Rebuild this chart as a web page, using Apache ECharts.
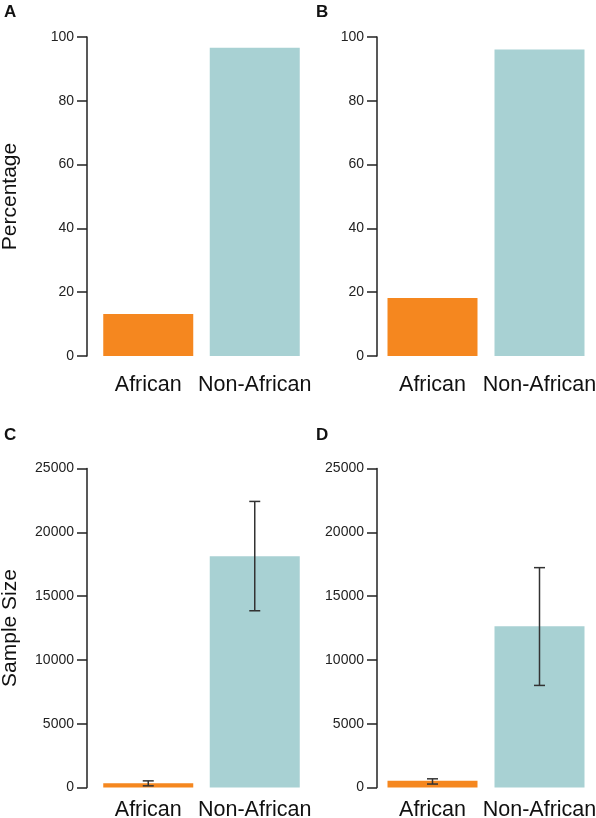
<!DOCTYPE html>
<html>
<head>
<meta charset="utf-8">
<script src="https://cdn.jsdelivr.net/npm/echarts@6/dist/echarts.min.js"></script>
<style>html,body{margin:0;padding:0;background:#fff}#c{width:596px;height:818px}</style>
</head>
<body>
<div id="c"></div>
<script>
const categories = ['African', 'Non-African'];
const pctA = [13.2, 96.6];
const pctB = [18.2, 96.1];
const sizeC = [340, 18130];
const errLowC = [130, 13850];
const errHighC = [520, 22420];
const sizeD = [520, 12630];
const errLowD = [270, 8000];
const errHighD = [680, 17230];
const pctTicks = [0, 20, 40, 60, 80, 100];
const sizeTicks = [0, 5000, 10000, 15000, 20000, 25000];

const barColors = ['#F5871F', '#A8D1D3'];
const FONT = 'Liberation Sans';
const axisColor = '#222';

const grids = [
  {left: 95, top: 37, width: 213, height: 319, outerBoundsMode: 'none', containLabel: false},
  {left: 379, top: 37, width: 214, height: 319, outerBoundsMode: 'none', containLabel: false},
  {left: 95, top: 468.5, width: 213, height: 319, outerBoundsMode: 'none', containLabel: false},
  {left: 379, top: 468.5, width: 214, height: 319, outerBoundsMode: 'none', containLabel: false}
];
const yOffsets = [8, 2, 8, 2];

function xAx(i, margin) {
  return {
    type: 'category', gridIndex: i, data: categories,
    axisLine: {show: false}, axisTick: {show: false},
    axisLabel: {fontFamily: FONT, fontSize: 21.5, color: '#111', margin: margin, interval: 0, hideOverlap: false}
  };
}
function yAx(i, ticks, name) {
  return {
    type: 'value', gridIndex: i, min: ticks[0], max: ticks[ticks.length - 1],
    interval: ticks[1] - ticks[0], offset: yOffsets[i],
    name: name, nameLocation: 'middle', nameGap: 66,
    nameTextStyle: {fontFamily: FONT, fontSize: 21, color: '#111'},
    splitLine: {show: false},
    axisLine: {show: true, lineStyle: {color: axisColor, width: 1.5}},
    axisTick: {show: true, length: 10, lineStyle: {color: axisColor, width: 1.5}},
    axisLabel: {fontFamily: FONT, fontSize: 14, color: '#222', margin: 13, formatter: v => String(v)}
  };
}
function bars(i, vals) {
  return {
    type: 'bar', xAxisIndex: i, yAxisIndex: i, barWidth: 90, z: 2,
    data: vals.map((v, k) => ({value: v, itemStyle: {color: barColors[k]}})),
    silent: true
  };
}
function errs(i, lo, hi) {
  return {
    type: 'custom', xAxisIndex: i, yAxisIndex: i, silent: true, z: 10,
    data: categories.map((c, k) => [k, lo[k], hi[k]]),
    encode: {x: 0, y: [1, 2]},
    renderItem: function (params, api) {
      const x = api.value(0);
      const p1 = api.coord([x, api.value(1)]);
      const p2 = api.coord([x, api.value(2)]);
      const hw = 5.5;
      const st = {stroke: '#333', lineWidth: 1.5, fill: null};
      return {
        type: 'group',
        children: [
          {type: 'line', shape: {x1: p1[0], y1: p1[1], x2: p2[0], y2: p2[1]}, style: st},
          {type: 'line', shape: {x1: p1[0] - hw, y1: p1[1], x2: p1[0] + hw, y2: p1[1]}, style: st},
          {type: 'line', shape: {x1: p2[0] - hw, y1: p2[1], x2: p2[0] + hw, y2: p2[1]}, style: st}
        ]
      };
    }
  };
}

const letterStyle = {fontFamily: 'Liberation Sans', fontWeight: 'bold', fontSize: 17, color: '#111'};
const option = {
  animation: false,
  title: [
    {text: 'A', left: 4, top: 4, textStyle: letterStyle, padding: 0},
    {text: 'B', left: 316, top: 4, textStyle: letterStyle, padding: 0},
    {text: 'C', left: 4, top: 427, textStyle: letterStyle, padding: 0},
    {text: 'D', left: 316, top: 427, textStyle: letterStyle, padding: 0}
  ],
  grid: grids,
  xAxis: [xAx(0, 18), xAx(1, 18), xAx(2, 12), xAx(3, 12)],
  yAxis: [yAx(0, pctTicks, 'Percentage'), yAx(1, pctTicks, ''), yAx(2, sizeTicks, 'Sample Size'), yAx(3, sizeTicks, '')],
  series: [
    bars(0, pctA), bars(1, pctB), bars(2, sizeC), bars(3, sizeD),
    errs(2, errLowC, errHighC), errs(3, errLowD, errHighD)
  ]
};
echarts.init(document.getElementById('c')).setOption(option);
</script>
</body>
</html>
